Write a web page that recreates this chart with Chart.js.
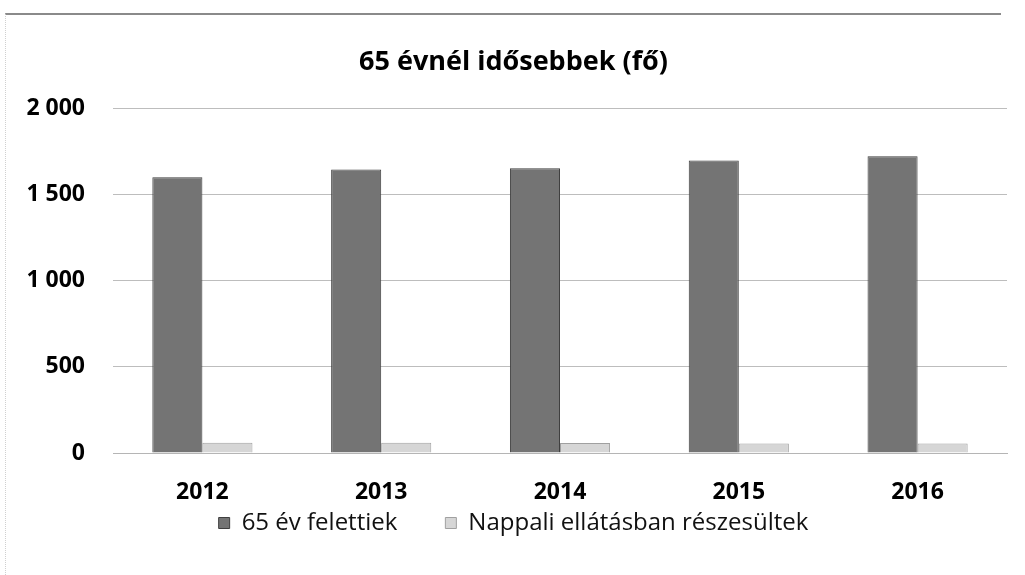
<!DOCTYPE html>
<html lang="hu">
<head>
<meta charset="UTF-8">
<title>65 évnél idősebbek (fő)</title>
<script src="https://cdn.jsdelivr.net/npm/chart.js"></script>
<style>
  html, body { margin: 0; padding: 0; background: #fff; }
  #frame {
    position: absolute; left: 5px; top: 13px; width: 995px; height: 562px;
    border-top: 2px solid #8a8a8a; border-left: 1px dotted #d0d0d0;
  }
  #myChart { position: absolute; left: 0; top: 0; }
</style>
</head>
<body>
<div id="frame"></div>
<canvas id="myChart" width="1025" height="575"></canvas>
<script>
const years = ['2012', '2013', '2014', '2015', '2016'];
const over65 = [1600, 1645, 1652, 1698, 1722];
const dayCare = [60, 60, 58, 55, 55];
const yTicks = [0, 500, 1000, 1500, 2000];

const fontFamily = '"Open Sans", "DejaVu Sans", sans-serif';

const ctx = document.getElementById('myChart').getContext('2d');
new Chart(ctx, {
  type: 'bar',
  data: {
    labels: years,
    datasets: [
      {
        label: '65 év felettiek',
        data: over65,
        backgroundColor: '#747474',
        borderColor: '#3f3f3f',
        borderWidth: 1
      },
      {
        label: 'Nappali ellátásban részesültek',
        data: dayCare,
        backgroundColor: '#d6d6d6',
        borderColor: '#a0a0a0',
        borderWidth: 1
      }
    ]
  },
  options: {
    responsive: false,
    animation: false,
    layout: { padding: { left: 20, right: 18, top: 30, bottom: 30 } },
    datasets: { bar: { categoryPercentage: 0.56, barPercentage: 1.0 } },
    plugins: {
      title: {
        display: true,
        text: '65 évnél idősebbek (fő)',
        color: '#000',
        font: { family: fontFamily, size: 27, weight: 'bold' },
        padding: { top: 16, bottom: 30 }
      },
      legend: {
        position: 'bottom',
        labels: {
          color: '#111',
          font: { family: fontFamily, size: 24 },
          boxWidth: 11,
          boxHeight: 11,
          padding: 0,
          // wider gap after the first entry
          generateLabels: chart => {
            const items = Chart.defaults.plugins.legend.labels.generateLabels(chart);
            items[0].text += '\u2003\u2003';
            return items;
          }
        }
      },
      tooltip: { enabled: false }
    },
    scales: {
      x: {
        afterFit: axis => { axis.height = 58; },
        grid: { display: false },
        border: { color: '#b5b5b5' },
        ticks: {
          color: '#000',
          padding: 18,
          font: { family: fontFamily, size: 23, weight: 'bold' }
        }
      },
      y: {
        min: 0,
        max: 2000,
        afterBuildTicks: axis => { axis.ticks = yTicks.map(v => ({ value: v })); },
        afterFit: axis => { axis.width = 93; },
        grid: { color: '#bdbdbd', drawTicks: false },
        border: { display: false },
        ticks: {
          color: '#000',
          padding: 28,
          font: { family: fontFamily, size: 23, weight: 'bold' },
          callback: v => String(v).replace(/\B(?=(\d{3})+(?!\d))/g, ' ')
        }
      }
    }
  }
});
</script>
</body>
</html>
